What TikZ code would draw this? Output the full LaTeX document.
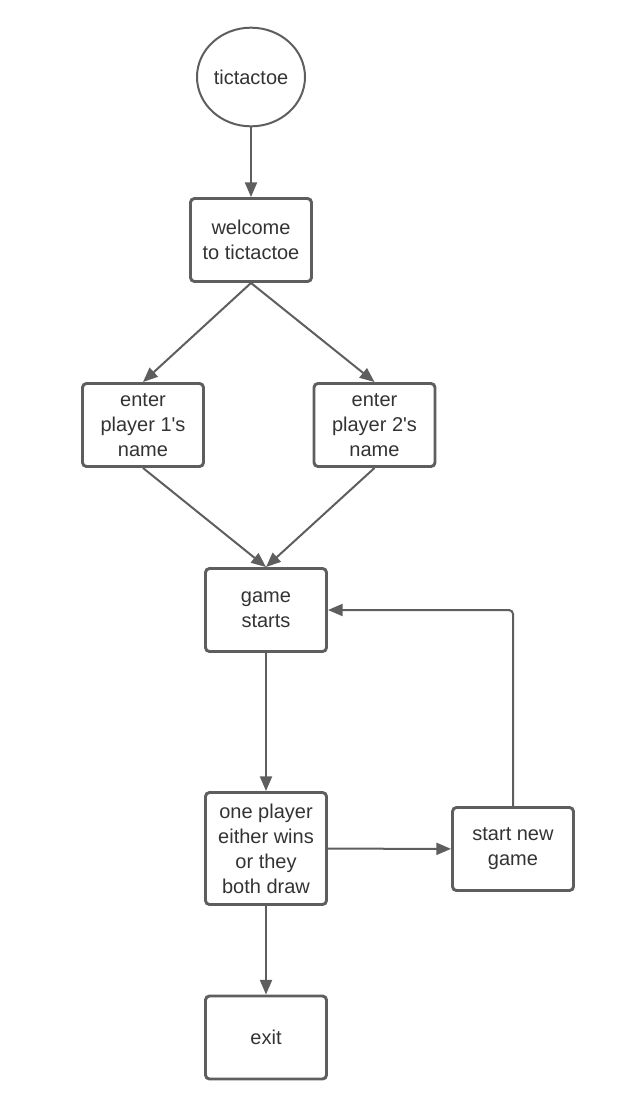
\documentclass[tikz,border=0pt]{standalone}
\usepackage{fontspec}
\setmainfont{Liberation Sans}
\usetikzlibrary{arrows.meta,shapes.geometric}
\definecolor{edgegray}{HTML}{5E5E5E}
\definecolor{txtgray}{HTML}{333333}

\begin{document}
\begin{tikzpicture}[x=0.75pt, y=-0.75pt,
  procbox/.style={draw=edgegray, line width=2.2pt, rounded corners=3pt, minimum width=90.75pt,
    minimum height=62.25pt, inner sep=0pt, align=center, text=txtgray,
    font=\fontsize{15}{18.75}\selectfont},
  tallbox/.style={procbox, minimum height=84pt},
  termnode/.style={ellipse, draw=edgegray, line width=1.5pt, minimum width=81pt,
    minimum height=74pt, inner sep=0pt, text=txtgray, font=\fontsize{15}{18.75}\selectfont},
  flowedge/.style={draw=edgegray, line width=1.5pt, -{Triangle[length=11pt, width=9pt]}}]

\useasboundingbox (0,0) rectangle (618,1118);

% nodes
\node[termnode] (start)   at (251,77)     {tictactoe};
\node[procbox]  (welcome) at (251,240)    {welcome\\to tictactoe};
\node[procbox]  (pone)    at (143,425)    {enter\\player 1\textquotesingle s\\name};
\node[procbox]  (ptwo)    at (374.5,425)  {enter\\player 2\textquotesingle s\\name};
\node[procbox]  (game)    at (266,610)    {game\\starts};
\node[tallbox]  (result)  at (266,848.5)  {one player\\either wins\\or they\\both draw};
\node[procbox]  (newgame) at (513,849)    {start new\\game};
\node[procbox]  (exit)    at (266,1037.5) {exit};

% connectors
\draw[flowedge] (start) -- (welcome);
\foreach \p in {pone,ptwo} {\draw[flowedge] (welcome.south) -- (\p.north);}
\foreach \p in {pone,ptwo} {\draw[flowedge] (\p.south) -- (game.north);}
\draw[flowedge] (game) -- (result);
\draw[flowedge] (result) -- (newgame);
\draw[flowedge, rounded corners=3pt] (newgame.north) |- (game.east);
\draw[flowedge] (result) -- (exit);

\end{tikzpicture}
\end{document}
